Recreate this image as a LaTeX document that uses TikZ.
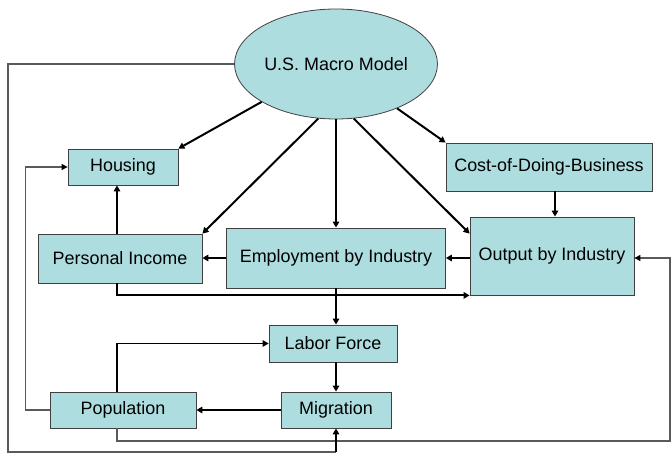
\documentclass[tikz,border=0pt]{standalone}
\usepackage{fontspec}
\setmainfont{Liberation Sans}
\usetikzlibrary{shapes.geometric,arrows.meta}
\definecolor{boxfill}{RGB}{174,221,224}
\definecolor{thinline}{RGB}{90,90,90}
\tikzset{
  box/.style={draw=black!75, line width=0.8bp, fill=boxfill, inner sep=0pt,
    font=\fontsize{18pt}{20pt}\selectfont},
  arr/.style={draw=black, line width=2bp, -{Triangle[length=6bp,width=6.5bp]}},
  thinl/.style={draw=thinline, line width=1.1bp},
  thinarr/.style={thinl, -{Triangle[length=6bp,width=6bp,color=black,fill=black]}},
}
\begin{document}
\begin{tikzpicture}[x=1bp,y=-1bp]
\useasboundingbox (0,0) rectangle (671,453);
\node[box, ellipse, minimum width=195bp, minimum height=110bp] (mm) at (336,64) {U.S. Macro Model};
\node[box, minimum width=110bp, minimum height=36bp] (housing) at (123,167) {Housing};
\node[box, minimum width=206bp, minimum height=48bp] (cost) at (549,167) {Cost-of-Doing-Business};
\node[box, minimum width=164bp, minimum height=49bp] (pi) at (120,258.5) {Personal Income};
\node[box, minimum width=219bp, minimum height=60bp] (emp) at (336,258) {Employment by Industry};
\node[box, minimum width=164bp, minimum height=78bp] (out) at (552,256) {Output by Industry};
\node[box, minimum width=128bp, minimum height=37bp] (labor) at (333,343.5) {Labor Force};
\node[box, minimum width=110bp, minimum height=36bp] (mig) at (336,410) {Migration};
\node[box, minimum width=146bp, minimum height=36bp] (pop) at (123,410) {Population};
\coordinate (rb) at (670,441);
\coordinate (lb) at (8,452);
% from the macro model
\draw[arr] (mm.207) -- (housing.north east);
\draw[arr] (mm.252) -- (pi.north east);
\draw[arr] (mm.south) -- (mm.south |- emp.north);
\draw[arr] (mm.288) -- ([yshift=-17bp]out.north west);
\draw[arr] (mm.324.4) -- (cost.north west);
% among boxes
\draw[arr] ([xshift=6bp]cost.south) -- ([xshift=6bp]cost.south |- out.north);
\draw[arr] (out.west |- emp.east) -- (emp.east);
\draw[arr] (emp.west) -- (emp.west -| pi.east);
\draw[arr] ([xshift=-3bp]pi.north) -- ([xshift=-3bp]pi.north |- housing.south);
\draw[arr] ([xshift=-3bp]pi.south) |- (out.south west);
\draw[arr] (emp.south) -- (emp.south |- labor.north);
\draw[arr, line width=1.5bp] ([xshift=-6bp]pop.north) |- (labor.west);
\draw[arr] (mig.north |- labor.south) -- (mig.north);
\draw[arr] (mig.west) -- (pop.east);
% loops
\draw[thinarr] (pop.west) -- ++(-24,0) |- (housing.west);
\draw[thinarr] ([xshift=-6bp]pop.south) |- (rb) |- (out.east |- emp.east);
\draw[thinl] (mm.west) -| (lb) -- (lb -| mig.south);
\draw[arr] (lb -| mig.south) -- (mig.south);
\end{tikzpicture}
\end{document}
